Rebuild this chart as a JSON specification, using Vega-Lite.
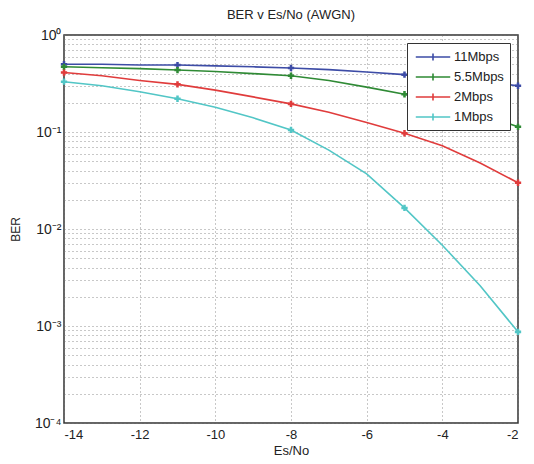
{
  "$schema": "https://vega.github.io/schema/vega-lite/v6.json",
  "autosize": {"type": "none"},
  "padding": {"left": 64, "top": 35, "right": 16, "bottom": 41},
  "width": 454,
  "height": 388,
  "background": "white",
  "config": {
    "font": "Liberation Sans",
    "view": {"stroke": "#333", "strokeWidth": 1.5}
  },
  "title": {"text": "BER v Es/No (AWGN)", "fontSize": 13, "fontWeight": "normal", "color": "#222", "offset": 6},
  "data": {"values": [
    {"snr": -14, "rate": "11Mbps", "ber": 0.50},
    {"snr": -13, "rate": "11Mbps", "ber": 0.50},
    {"snr": -12, "rate": "11Mbps", "ber": 0.49},
    {"snr": -11, "rate": "11Mbps", "ber": 0.49},
    {"snr": -10, "rate": "11Mbps", "ber": 0.48},
    {"snr": -9, "rate": "11Mbps", "ber": 0.47},
    {"snr": -8, "rate": "11Mbps", "ber": 0.457},
    {"snr": -7, "rate": "11Mbps", "ber": 0.44},
    {"snr": -6, "rate": "11Mbps", "ber": 0.415},
    {"snr": -5, "rate": "11Mbps", "ber": 0.39},
    {"snr": -4, "rate": "11Mbps", "ber": 0.36},
    {"snr": -3, "rate": "11Mbps", "ber": 0.33},
    {"snr": -2, "rate": "11Mbps", "ber": 0.30},
    {"snr": -14, "rate": "5.5Mbps", "ber": 0.47},
    {"snr": -13, "rate": "5.5Mbps", "ber": 0.46},
    {"snr": -12, "rate": "5.5Mbps", "ber": 0.45},
    {"snr": -11, "rate": "5.5Mbps", "ber": 0.435},
    {"snr": -10, "rate": "5.5Mbps", "ber": 0.42},
    {"snr": -9, "rate": "5.5Mbps", "ber": 0.40},
    {"snr": -8, "rate": "5.5Mbps", "ber": 0.38},
    {"snr": -7, "rate": "5.5Mbps", "ber": 0.34},
    {"snr": -6, "rate": "5.5Mbps", "ber": 0.29},
    {"snr": -5, "rate": "5.5Mbps", "ber": 0.245},
    {"snr": -4, "rate": "5.5Mbps", "ber": 0.20},
    {"snr": -3, "rate": "5.5Mbps", "ber": 0.155},
    {"snr": -2, "rate": "5.5Mbps", "ber": 0.113},
    {"snr": -14, "rate": "2Mbps", "ber": 0.41},
    {"snr": -13, "rate": "2Mbps", "ber": 0.38},
    {"snr": -12, "rate": "2Mbps", "ber": 0.34},
    {"snr": -11, "rate": "2Mbps", "ber": 0.31},
    {"snr": -10, "rate": "2Mbps", "ber": 0.27},
    {"snr": -9, "rate": "2Mbps", "ber": 0.23},
    {"snr": -8, "rate": "2Mbps", "ber": 0.195},
    {"snr": -7, "rate": "2Mbps", "ber": 0.16},
    {"snr": -6, "rate": "2Mbps", "ber": 0.125},
    {"snr": -5, "rate": "2Mbps", "ber": 0.097},
    {"snr": -4, "rate": "2Mbps", "ber": 0.072},
    {"snr": -3, "rate": "2Mbps", "ber": 0.048},
    {"snr": -2, "rate": "2Mbps", "ber": 0.030},
    {"snr": -14, "rate": "1Mbps", "ber": 0.33},
    {"snr": -13, "rate": "1Mbps", "ber": 0.30},
    {"snr": -12, "rate": "1Mbps", "ber": 0.26},
    {"snr": -11, "rate": "1Mbps", "ber": 0.22},
    {"snr": -10, "rate": "1Mbps", "ber": 0.18},
    {"snr": -9, "rate": "1Mbps", "ber": 0.14},
    {"snr": -8, "rate": "1Mbps", "ber": 0.105},
    {"snr": -7, "rate": "1Mbps", "ber": 0.065},
    {"snr": -6, "rate": "1Mbps", "ber": 0.037},
    {"snr": -5, "rate": "1Mbps", "ber": 0.0165},
    {"snr": -4, "rate": "1Mbps", "ber": 0.0068},
    {"snr": -3, "rate": "1Mbps", "ber": 0.0026},
    {"snr": -2, "rate": "1Mbps", "ber": 0.00087}
  ]},
  "encoding": {
    "x": {"field": "snr", "type": "quantitative",
      "scale": {"domain": [-14, -2], "nice": false},
      "axis": {"title": "Es/No", "titleFontSize": 13, "titleFontWeight": "normal", "titleColor": "#222", "titlePadding": 3,
        "values": [-14, -12, -10, -8, -6, -4, -2], "labelExpr": "'' + datum.value", "labelFontSize": 13, "labelColor": "#222",
        "grid": true, "gridDash": [1, 3], "gridColor": "#777", "gridOpacity": 0.8, "domain": false,
        "ticks": false, "labelPadding": 5}},
    "y": {"field": "ber", "type": "quantitative",
      "scale": {"type": "log", "domain": [0.0001, 1], "nice": false},
      "axis": {"title": "BER", "titleFontSize": 12, "titleFontWeight": "normal", "titleColor": "#222", "titlePadding": 12,
        "values": [0.0001, 0.0002, 0.0003, 0.0004, 0.0005, 0.0006, 0.0007, 0.0008, 0.0009,
                   0.001, 0.002, 0.003, 0.004, 0.005, 0.006, 0.007, 0.008, 0.009,
                   0.01, 0.02, 0.03, 0.04, 0.05, 0.06, 0.07, 0.08, 0.09,
                   0.1, 0.2, 0.3, 0.4, 0.5, 0.6, 0.7, 0.8, 0.9, 1],
        "labelExpr": "datum.value == 1 ? '10⁰' : datum.value == 0.1 ? '10⁻¹' : datum.value == 0.01 ? '10⁻²' : datum.value == 0.001 ? '10⁻³' : datum.value == 0.0001 ? '10⁻⁴' : ''",
        "labelFontSize": 14, "labelColor": "#222", "labelPadding": 3,
        "grid": true, "gridDash": [1, 3], "gridColor": "#777", "gridOpacity": 0.8, "domain": false, "ticks": false}},
    "color": {"field": "rate", "type": "nominal",
      "scale": {"domain": ["11Mbps", "5.5Mbps", "2Mbps", "1Mbps"], "range": ["#3d4ca6", "#2f8a35", "#e03c3c", "#52c6c6"]},
      "legend": {"orient": "none", "legendX": 343, "legendY": 8, "title": null,
         "symbolType": "M-2.5,0L2.5,0M0,-0.5L0,0.5M-0.5,0L0.5,0", "symbolSize": 190, "symbolStrokeWidth": 1.6, "symbolOpacity": 1,
         "symbolOffset": 12,
         "labelFontSize": 13, "labelColor": "#222", "rowPadding": 5, "labelOffset": 13,
         "strokeColor": "#333", "fillColor": "white", "padding": 6}}
  },
  "layer": [
    {"mark": {"type": "line", "strokeWidth": 1.6}},
    {"transform": [{"filter": "indexof([-14, -11, -8, -5, -2], datum.snr) >= 0"}],
     "mark": {"type": "point", "shape": "cross", "filled": true, "size": 40, "opacity": 1}}
  ]
}
